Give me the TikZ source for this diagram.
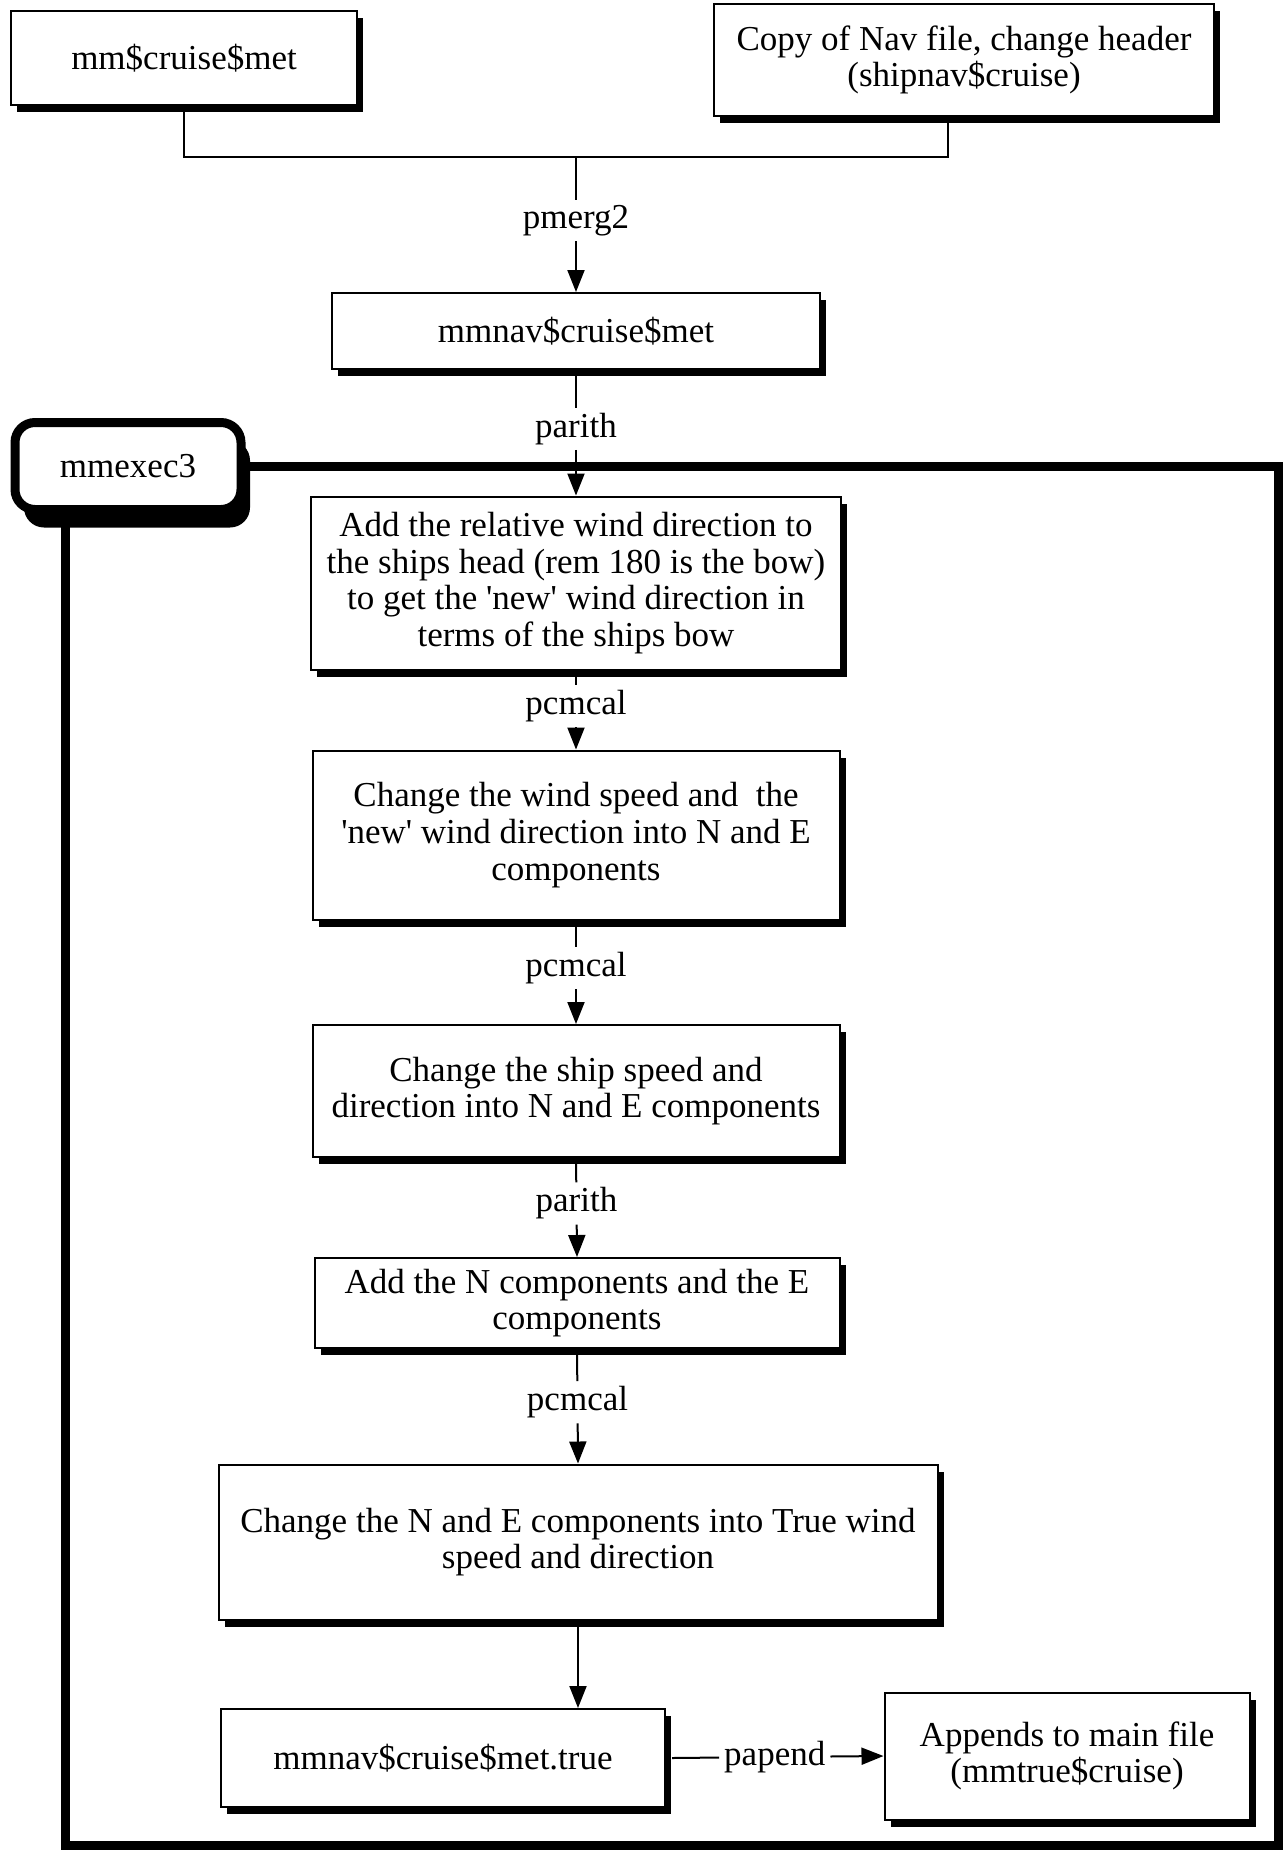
\documentclass[tikz,border=0pt]{standalone}
\usepackage{fontspec}
\setmainfont{Liberation Serif}
\usetikzlibrary{arrows.meta,shadows,positioning}

\tikzset{
    procbox/.style={draw, line width=2pt, fill=white, align=center, inner sep=4pt,
        drop shadow={shadow xshift=6pt, shadow yshift=-7pt, fill=black, opacity=1}},
    prog/.style={inner sep=5pt},
    flow/.style={line width=2pt, -{Triangle[length=22pt,width=17pt]}},
    link/.style={line width=2pt},
    frame/.style={line width=9pt},
}

\begin{document}
\begin{tikzpicture}[x=1pt, y=1pt, font=\fontsize{35}{36.6}\selectfont]
        \useasboundingbox (0,0) rectangle (1285,-1852);
        % Input files
        \node[procbox, minimum width=346, minimum height=93] (cruise) at (184,-58) {mm\$cruise\$met};
        \node[procbox, minimum width=500, minimum height=111] (nav) at (964,-60)
            {Copy of Nav file, change header\\(shipnav\$cruise)};
        \coordinate (join) at (576,-157);
        \draw[link] (cruise.south) |- (join) -| ([xshift=-16pt]nav.south);
        % Merged file
        \node[procbox, minimum width=488, minimum height=76] (mmnav) at (576,-331) {mmnav\$cruise\$met};
        % Batch job with its frame
        \node[draw, fill=white, line width=9pt, rounded corners=20pt, minimum width=226, minimum height=87,
            drop shadow={shadow xshift=9pt, shadow yshift=-18pt, fill=black, opacity=1}] (mmexec3) at (128,-466) {mmexec3};
        \coordinate (frameSE) at (1278,-1845);
        \draw[frame] (mmexec3.east) -| (frameSE) -| ([xshift=55pt]mmexec3.south west);
        % Steps
        \node[procbox, minimum width=530, minimum height=173] (addrel) at (576,-583)
            {Add the relative wind direction to\\the ships head (rem 180 is the bow)\\to get the \textquotesingle new\textquotesingle\ wind direction in\\terms of the ships bow};
        \node[procbox, minimum width=527, minimum height=169] (nerel) at (576,-835)
            {Change the wind speed and\ \ the\\\textquotesingle new\textquotesingle\ wind direction into N and E\\components};
        \node[procbox, minimum width=527, minimum height=132] (neship) at (576,-1091)
            {Change the ship speed and\\direction into N and E components};
        \node[procbox, minimum width=525, minimum height=90] (addne) at (577,-1303)
            {Add the N components and the E\\components};
        \node[procbox, minimum width=719, minimum height=155] (truewind) at (578,-1542)
            {Change the N and E components into True wind\\speed and direction};
        % Output files
        \node[procbox, minimum width=444, minimum height=98] (mmtrue) at (443,-1758) {mmnav\$cruise\$met.true};
        \node[procbox, minimum width=365, minimum height=127] (mainfile) at (1067,-1756)
            {Appends to main file\\(mmtrue\$cruise)};
        % Programs between the steps
        \foreach \from/\to/\prog/\name in {join/mmnav.north/pmerg2/lmerge, mmnav.south/addrel.north/parith/lrel,
            addrel.south/nerel.north/pcmcal/lnerel, nerel.south/neship.north/pcmcal/lneship,
            neship.south/addne.north/parith/laddne, addne.south/truewind.north/pcmcal/ltrue} {
                \path (\from) -- (\to) node[prog, midway, yshift=4pt] (\name) {\prog};
                \draw[link] (\from) -- (\name);
                \draw[flow] (\name) -- (\to);
            }
        \draw[flow] (truewind.south) -- (truewind.south |- mmtrue.north);
        \path (mmtrue.east) -- (mainfile.west) node[prog, midway] (lappend) {papend};
        \draw[link] ([xshift=6pt]mmtrue.east) -- (lappend);
        \draw[flow] (lappend) -- (mainfile.west);
    \end{tikzpicture}
\end{document}
